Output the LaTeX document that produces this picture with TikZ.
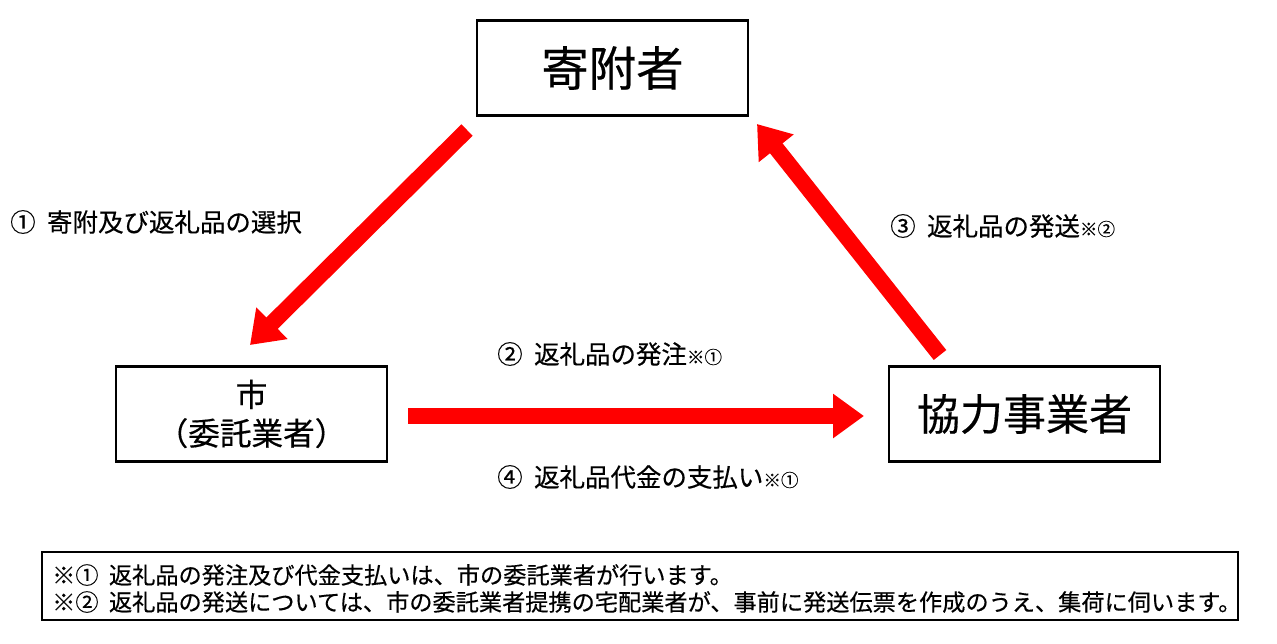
\documentclass[tikz,border=0pt]{standalone}
\usepackage{fontspec}
\setmainfont{Noto Sans CJK JP}[FakeBold=0.4]
\usetikzlibrary{arrows.meta,positioning}

\begin{document}
\begin{tikzpicture}[x=0.02cm,y=-0.02cm,
    box/.style={draw,line width=1.6pt,minimum width=5.42cm,minimum height=1.9cm,align=center},
    flow/.style={red,line width=0.32cm,-{Triangle[width=0.85cm,length=0.62cm]}},
    lbl/.style={anchor=west,font=\fontsize{14.5}{17}\selectfont},
    note/.style={anchor=west,font=\fontsize{13.2}{16}\selectfont}]
    \useasboundingbox (0,0) rectangle (1277,643);

    % parties
    \node[box,font=\fontsize{27}{30}\selectfont] (donor) at (612.5,68) {寄附者};
    \node[box,font=\fontsize{18}{22}\selectfont] (city) at (251.5,414) {市\\（委託業者）};
    \node[box,font=\fontsize{24.5}{28}\selectfont] (partner) at (1024.5,414) {協力事業者};

    % arrow ends
    \coordinate (a1s) at (467,130);
    \coordinate (a1e) at (250,345);
    \coordinate (a2s) at (408,416);
    \coordinate (a2e) at (864,416);
    \coordinate (a3s) at (940,355);
    \coordinate (a3e) at (757,124);
    \draw[flow] (a1s) -- (a1e);
    \draw[flow] (a2s) -- (a2e);
    \draw[flow] (a3s) -- (a3e);

    % labels
    \node[lbl] (l1) at (4,222) {①\ \ 寄附及び返礼品の選択};
    \node[lbl] (l3) at (884,226) {③\ \ 返礼品の発送{\fontsize{10}{12}\selectfont ※②}};
    \node[lbl] (l2) at (491,354) {②\ \ 返礼品の発注{\fontsize{10}{12}\selectfont ※①}};
    \node[lbl] (l4) at (491,477) {④\ \ 返礼品代金の支払い{\fontsize{10}{12}\selectfont ※①}};

    % notes
    \draw[line width=0.6pt] (42,552) rectangle (1238,620);
    \node[note] (n1) at (46,575) {※①\ \ 返礼品の発注及び代金支払いは、市の委託業者が行います。};
    \node[note] (n2) at (46,602) {※②\ \ 返礼品の発送については、市の委託業者提携の宅配業者が、事前に発送伝票を作成のうえ、集荷に伺います。};
\end{tikzpicture}
\end{document}
